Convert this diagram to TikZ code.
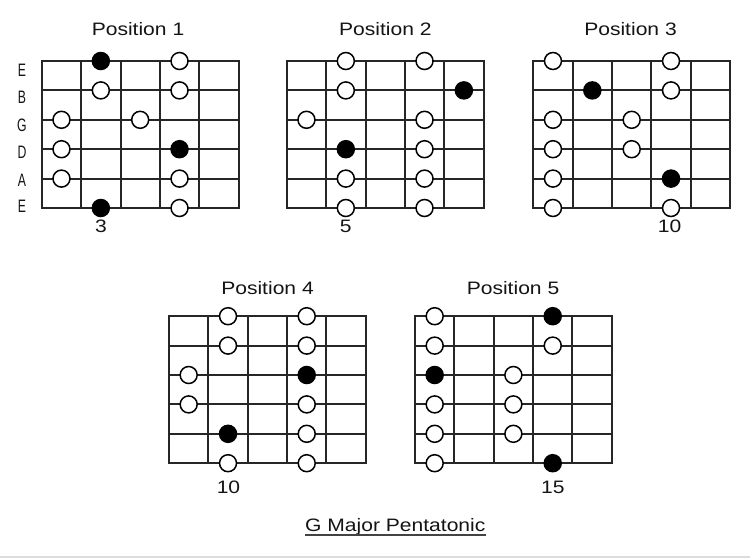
\documentclass[tikz,border=0pt]{standalone}
\usepackage{fontspec}
\setmainfont{Liberation Sans}
\definecolor{ink}{HTML}{141414}
\definecolor{gridc}{HTML}{262626}
\definecolor{band}{HTML}{DCDCDC}
\newcommand\wide[1]{\scalebox{1.17}[1]{#1}}
\newcommand\narrow[1]{\scalebox{0.68}[1]{#1}}
\tikzset{
  gridline/.style={draw=gridc, line width=2pt, line cap=rect},
  fdot/.style={circle, draw=black, line width=1.5pt, minimum size=17pt, inner sep=0pt},
  txt/.style={anchor=base, text=ink, inner sep=0pt, font=\fontsize{18}{21}\selectfont},
}
\newcommand\dx{39.35}
\newcommand\dy{29.4}
% #1 name prefix, #2 x0, #3 y0, #4 list string/fret/colour
\newcommand\fretboard[4]{%
  \foreach \i in {0,...,5}
    \draw[gridline] ({#2},{#3+\i*\dy}) -- ({#2+5*\dx},{#3+\i*\dy});
  \foreach \j in {0,...,5}
    \draw[gridline] ({#2+\j*\dx},{#3}) -- ({#2+\j*\dx},{#3+5*\dy});
  \foreach \s/\c/\f in {#4}
    \node[fdot, fill=\f] (#1-\s-\c) at ({#2+(\c-0.5)*\dx},{#3+(\s-1)*\dy}) {};
}
\begin{document}
\begin{tikzpicture}[x=1pt, y=-1pt]
\useasboundingbox (0,0) rectangle (750,558);
\fill[white] (0,0) rectangle (750,558);
\fill[band] (0,555.5) rectangle (750,558);

% Position 1
\fretboard{pa}{41.8}{61}{1/2/black,1/4/white,2/2/white,2/4/white,3/1/white,3/3/white,4/1/white,4/4/black,5/1/white,5/4/white,6/2/black,6/4/white}
% Position 2
\fretboard{pb}{286.8}{61}{1/2/white,1/4/white,2/2/white,2/5/black,3/1/white,3/4/white,4/2/black,4/4/white,5/2/white,5/4/white,6/2/white,6/4/white}
% Position 3
\fretboard{pc}{533.3}{61}{1/1/white,1/4/white,2/2/black,2/4/white,3/1/white,3/3/white,4/1/white,4/3/white,5/1/white,5/4/black,6/1/white,6/4/white}
% Position 4
\fretboard{pd}{169}{316.2}{1/2/white,1/4/white,2/2/white,2/4/white,3/1/white,3/4/black,4/1/white,4/4/white,5/2/black,5/4/white,6/2/white,6/4/white}
% Position 5
\fretboard{pe}{415}{316.2}{1/1/white,1/4/black,2/1/white,2/4/white,3/1/black,3/3/white,4/1/white,4/3/white,5/1/white,5/3/white,6/1/white,6/4/black}

% titles
\node[txt] (ta) at (138,35) {\wide{Position 1}};
\node[txt] (tb) at (385.3,35) {\wide{Position 2}};
\node[txt] (tc) at (630.5,35) {\wide{Position 3}};
\node[txt] (td) at (267.5,294) {\wide{Position 4}};
\node[txt] (te) at (513,294) {\wide{Position 5}};

% string names
\node[txt] (s1) at (22,76) {\narrow{E}};
\node[txt] (s2) at (22,103) {\narrow{B}};
\node[txt] (s3) at (22,131) {\narrow{G}};
\node[txt] (s4) at (22,158.5) {\narrow{D}};
\node[txt] (s5) at (22,186) {\narrow{A}};
\node[txt] (s6) at (22,212.5) {\narrow{E}};

% fret numbers
\node[txt] (na) at (101,232.5) {\wide{3}};
\node[txt] (nb) at (345.8,232.5) {\wide{5}};
\node[txt] (nc) at (669.5,232.5) {\wide{10}};
\node[txt] (nd) at (228.5,493.5) {\wide{10}};
\node[txt] (ne) at (552.8,493.5) {\wide{15}};

% caption
\node[txt] (cap) at (395.3,531.5) {\wide{G Major Pentatonic}};
\draw[draw=ink!80, line width=1.4pt] (cap.south west |- 0,535) -- (cap.south east |- 0,535);
\end{tikzpicture}
\end{document}
